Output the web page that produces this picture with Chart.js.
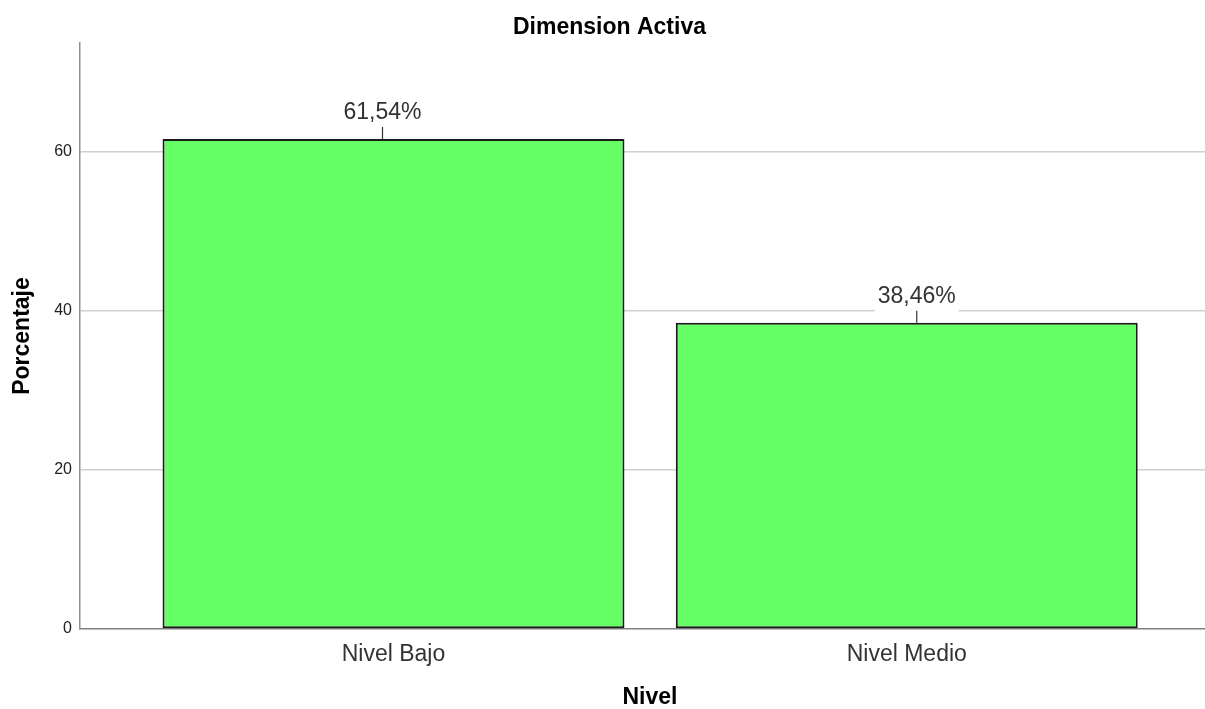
<!DOCTYPE html>
<html>
<head>
  <meta charset="utf-8" />
  <title>Dimension Activa</title>
  <script src="https://cdn.jsdelivr.net/npm/chart.js@4"></script>
  <style>
    html, body { margin: 0; padding: 0; background: #ffffff; }
    #wrap { width: 1205px; height: 709px; }
  </style>
</head>
<body>
  <div id="wrap"><canvas id="chart"></canvas></div>
  <script>
    // chart data
    const categories = ['Nivel Bajo', 'Nivel Medio'];
    const percentages = [61.54, 38.46];
    const yTicks = [0, 20, 40, 60];
    const chartTitle = 'Dimension Activa';
    const xTitle = 'Nivel';
    const yTitle = 'Porcentaje';

    const FONT = '"Liberation Sans", Arial, sans-serif';

    // format 61.54 -> "61,54%"
    const fmt = v => v.toFixed(2).replace('.', ',') + '%';

    // value labels with a short leader line, plus chart / x titles
    const labelsPlugin = {
      id: 'labels',
      afterDatasetsDraw(chart, args, opts) {
        const ctx = chart.ctx;
        const meta = chart.getDatasetMeta(0);
        ctx.save();
        ctx.font = '23px ' + FONT;
        ctx.textAlign = 'center';
        ctx.textBaseline = 'alphabetic';
        meta.data.forEach((bar, i) => {
          const txt = fmt(percentages[i]);
          const w = ctx.measureText(txt).width;
          // SPSS places the labels slightly off the bar centre
          const lx = bar.x + (opts.shift[i] || 0);
          const base = bar.y - 20;
          // white box hides the gridline behind the label
          ctx.fillStyle = '#ffffff';
          ctx.fillRect(lx - w / 2 - 3, base - 19, w + 6, bar.y - 6 - (base - 19));
          ctx.strokeStyle = '#333333';
          ctx.lineWidth = 1.2;
          ctx.beginPath();
          ctx.moveTo(lx, bar.y);
          ctx.lineTo(lx, bar.y - 12);
          ctx.stroke();
          ctx.fillStyle = '#333333';
          ctx.fillText(txt, lx, base);
        });
        ctx.restore();
      },
      afterDraw(chart) {
        const ctx = chart.ctx;
        ctx.save();
        ctx.fillStyle = '#000000';
        ctx.font = 'bold 23px ' + FONT;
        ctx.textAlign = 'center';
        ctx.textBaseline = 'middle';
        ctx.fillText(chartTitle, 609.5, 28);
        ctx.fillText(xTitle, 650, 698);
        ctx.restore();
      }
    };

    new Chart(document.getElementById('chart'), {
      type: 'bar',
      data: {
        datasets: [{
          data: percentages.map((v, i) => ({ x: i, y: v })),
          backgroundColor: '#66ff66',
          borderColor: '#1a1a1a',
          borderWidth: 2,
          borderSkipped: false,
          categoryPercentage: 1,
          barPercentage: 0.9
        }]
      },
      options: {
        responsive: true,
        maintainAspectRatio: false,
        animation: false,
        layout: { padding: { top: 43, left: 0, right: 0, bottom: 0 } },
        plugins: {
          legend: { display: false },
          tooltip: { enabled: false },
          labels: { shift: [-11, 10] }
        },
        scales: {
          x: {
            type: 'linear',
            offset: false,
            min: -0.6108,
            max: 1.5811,
            afterBuildTicks: s => { s.ticks = categories.map((c, i) => ({ value: i })); },
            afterFit: s => { s.height = 80; },
            grid: { display: false },
            border: { color: '#808080', width: 1.5 },
            ticks: {
              autoSkip: false,
              maxRotation: 0,
              padding: 4,
              color: '#333333',
              font: { family: FONT, size: 23 },
              callback: v => categories[v] ?? ''
            }
          },
          y: {
            min: 0,
            max: 73.6,
            afterBuildTicks: s => { s.ticks = yTicks.map(v => ({ value: v })); },
            afterFit: s => { s.width = 80; },
            grid: {
              drawTicks: false,
              lineWidth: 1.5,
              color: ctx => ctx.tick && ctx.tick.value === 0 ? 'rgba(0,0,0,0)' : '#d0d0d0'
            },
            border: { color: '#909090', width: 1.5 },
            ticks: {
              padding: 8,
              color: '#222222',
              font: { family: FONT, size: 16 }
            },
            title: {
              display: true,
              text: yTitle,
              color: '#000000',
              font: { family: FONT, size: 23, weight: 'bold' },
              padding: { top: 9, bottom: 0 }
            }
          }
        }
      },
      plugins: [labelsPlugin]
    });
  </script>
</body>
</html>
